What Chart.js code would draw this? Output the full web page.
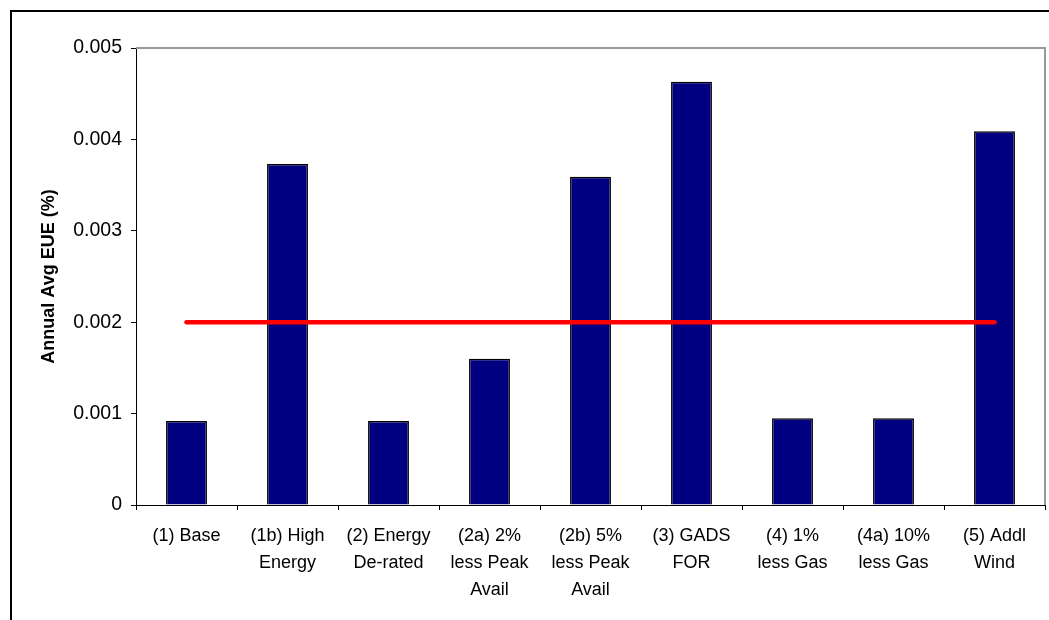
<!DOCTYPE html>
<html>
<head>
<meta charset="utf-8">
<style>
  html, body { margin: 0; padding: 0; background: #fff; }
  #wrap { position: relative; width: 1049px; height: 620px; }
  canvas { display: block; }
</style>
<script src="https://cdn.jsdelivr.net/npm/chart.js@4/dist/chart.umd.min.js"></script>
</head>
<body>
<div id="wrap"><canvas id="c" width="1049" height="620"></canvas></div>
<script>
const categories = [
  ["(1) Base"],
  ["(1b) High", "Energy"],
  ["(2) Energy", "De-rated"],
  ["(2a) 2%", "less Peak", "Avail"],
  ["(2b) 5%", "less Peak", "Avail"],
  ["(3) GADS", "FOR"],
  ["(4) 1%", "less Gas"],
  ["(4a) 10%", "less Gas"],
  ["(5) Addl", "Wind"]
];
const eueValues = [0.00092, 0.00373, 0.00092, 0.00160, 0.00359, 0.00463, 0.00095, 0.00095, 0.00409];
const targetValues = [0.002, 0.002, 0.002, 0.002, 0.002, 0.002, 0.002, 0.002, 0.002];
const yTicks = [0, 0.001, 0.002, 0.003, 0.004, 0.005];
const yTitle = "Annual Avg EUE (%)";

const PLOT_LEFT = 136, PLOT_TOP = 48, PLOT_RIGHT = 1045, PLOT_BOTTOM = 505;
const W = 1049, H = 620;

const framePlugin = {
  id: 'frame',
  beforeDraw(chart) {
    const ctx = chart.ctx;
    ctx.save();
    ctx.fillStyle = '#fff';
    ctx.fillRect(0, 0, W, H);
    ctx.strokeStyle = '#000';
    ctx.lineWidth = 2;
    ctx.beginPath();
    ctx.moveTo(11, H + 5);
    ctx.lineTo(11, 11);
    ctx.lineTo(W + 5, 11);
    ctx.stroke();
    ctx.restore();
  },
  afterDatasetsDraw(chart) {
    const ca = chart.chartArea;
    const ctx = chart.ctx;
    ctx.save();
    ctx.strokeStyle = '#999';
    ctx.lineWidth = 2;
    ctx.beginPath();
    ctx.moveTo(ca.left, ca.top);
    ctx.lineTo(ca.right, ca.top);
    ctx.lineTo(ca.right, ca.bottom);
    ctx.stroke();
    ctx.restore();
  }
};

new Chart(document.getElementById('c'), {
  type: 'bar',
  data: {
    labels: categories,
    datasets: [
      {
        type: 'line',
        data: targetValues,
        borderColor: '#ff0000',
        borderWidth: 4.5,
        borderCapStyle: 'round',
        pointRadius: 0,
        fill: false,
        order: 0
      },
      {
        type: 'bar',
        data: eueValues,
        backgroundColor: '#000080',
        borderColor: '#000000',
        borderWidth: 1.5,
        barPercentage: 0.405,
        categoryPercentage: 1.0,
        order: 1
      }
    ]
  },
  options: {
    responsive: false,
    animation: false,
    devicePixelRatio: 1,
    layout: { padding: { left: 0, top: PLOT_TOP, right: W - PLOT_RIGHT, bottom: 0 } },
    plugins: { legend: { display: false }, tooltip: { enabled: false }, title: { display: false } },
    scales: {
      x: {
        offset: true,
        grid: { display: true, offset: true, drawOnChartArea: false, drawTicks: true, tickLength: 5, color: '#000', tickColor: '#000' },
        border: { display: true, color: '#000', width: 1 },
        ticks: {
          color: '#000',
          font: { family: 'Liberation Sans, Arial, sans-serif', size: 18, lineHeight: 1.5 },
          padding: 13,
          maxRotation: 0,
          minRotation: 0,
          autoSkip: false
        },
        afterFit(scale) { scale.height = H - PLOT_BOTTOM; }
      },
      y: {
        min: 0,
        max: 0.005,
        afterBuildTicks(scale) { scale.ticks = yTicks.map(v => ({ value: v })); },
        grid: { display: true, drawOnChartArea: false, drawTicks: true, tickLength: 5, color: '#000', tickColor: '#000' },
        border: { display: true, color: '#000', width: 1 },
        ticks: {
          color: '#000',
          font: { family: 'Liberation Sans, Arial, sans-serif', size: 19.5 },
          padding: 9,
          callback: (v) => String(v)
        },
        title: {
          display: true,
          text: yTitle,
          color: '#000',
          font: { family: 'Liberation Sans, Arial, sans-serif', size: 18, weight: 'bold' },
          padding: { top: 38, bottom: 0 }
        },
        afterFit(scale) { scale.width = PLOT_LEFT; }
      }
    }
  },
  plugins: [framePlugin]
});
</script>
</body>
</html>
